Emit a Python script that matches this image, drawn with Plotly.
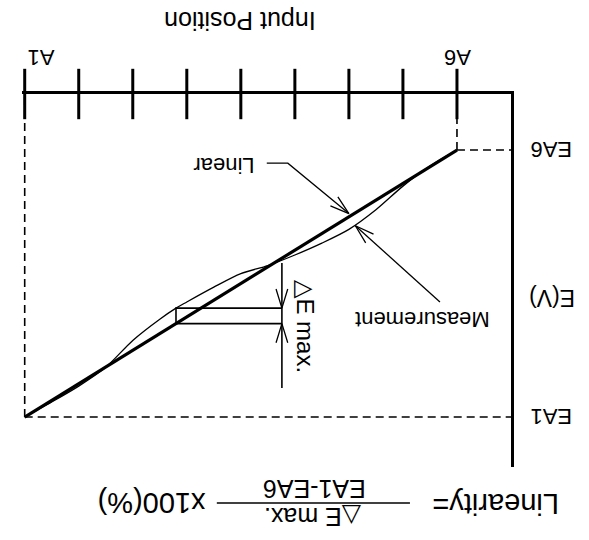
import numpy as np
import plotly.graph_objects as go

# ---- data -------------------------------------------------------------
# Stroke positions (tick marks) from A1 to A6 and their labels
tick_pos = [0, 1, 2, 3, 4, 5, 6, 7, 8]
tick_text = ["A1", "", "", "", "", "", "", "", "A6"]

# Normalised output levels at both ends of the stroke
level_names = ["EA1", "EA6"]
level_values = [0.0, 1.0]

# Measured output voltage along the stroke
meas_pos = [0, 0.5, 1, 1.5, 2, 2.5, 2.8, 3, 3.5, 4, 4.5, 5, 5.5, 6, 6.5, 7, 7.5, 8]
meas_e = [0.0, 0.0565, 0.116, 0.1865, 0.287, 0.3665, 0.408, 0.431, 0.4865,
          0.537, 0.5675, 0.607, 0.6515, 0.703, 0.7765, 0.865, 0.9405, 1.0]

# ---- page geometry ----------------------------------------------------
W, H = 589, 540
L, R, T, B = 22.3, 78, 94, 73
x_range = [-0.05, 9.0]
y_range = [-0.187, 1.21]
pw, ph = W - L - R, H - T - B
kx = pw / (x_range[1] - x_range[0])   # px per stroke unit
ky = ph / (y_range[1] - y_range[0])   # px per E unit


def paper(px, py):
    """Page pixel position -> paper fraction."""
    return (px - L) / pw, (H - B - py) / ph


ea1, ea6 = level_values
p0, p1 = tick_pos[0], tick_pos[-1]


def linear(p):
    return ea1 + (ea6 - ea1) * (p - p0) / (p1 - p0)


def vhead(tip, tail, length=20, half_deg=17):
    """Open V arrowhead at tip, barbs pointing back towards tail."""
    dx = (tail[0] - tip[0]) * kx
    dy = (tail[1] - tip[1]) * ky
    n = np.hypot(dx, dy)
    ux, uy = dx / n, dy / n
    xs, ys = [], []
    for s in (1, -1):
        a = np.radians(half_deg) * s
        bx = ux * np.cos(a) - uy * np.sin(a)
        by = ux * np.sin(a) + uy * np.cos(a)
        xs.append(tip[0] + length * bx / kx)
        ys.append(tip[1] + length * by / ky)
    return [xs[0], tip[0], xs[1], None], [ys[0], tip[1], ys[1], None]


FONT = "Liberation Sans, Arial, Helvetica, sans-serif"
BLACK = "#000000"

fig = go.Figure()

# reference dashed lines from the end points to the axes
dash_x = [p0, p0, None, p0, x_range[1], None, p1, p1, None, p1, x_range[1]]
dash_y = [ea1, y_range[1], None, ea1, ea1, None, ea6, y_range[1], None, ea6, ea6]
fig.add_trace(go.Scatter(x=dash_x, y=dash_y, mode="lines",
                         line=dict(color=BLACK, width=1.6, dash="8px,5px")))

# measured curve
fig.add_trace(go.Scatter(x=meas_pos, y=meas_e, mode="lines",
                         line=dict(color=BLACK, width=1.3, shape="spline", smoothing=0.8)))

# ideal linear output
fig.add_trace(go.Scatter(x=[p0, p1], y=[ea1, ea6], mode="lines",
                         line=dict(color=BLACK, width=3.2)))

# maximum deviation box and dimension line
dev = np.array(meas_e) - np.array([linear(p) for p in meas_pos])
i_max = int(np.argmax(np.abs(dev)))
p_max = meas_pos[i_max]
e_top = meas_e[i_max]
e_bot = linear(p_max)
p_bar = 4.76
box_x = [p_bar, p_max, p_max, p_bar]
box_y = [e_top, e_top, e_bot, e_bot]
fig.add_trace(go.Scatter(x=box_x, y=box_y, mode="lines",
                         line=dict(color=BLACK, width=1.6)))
fig.add_trace(go.Scatter(x=[p_bar, p_bar], y=[0.577, 0.109], mode="lines",
                         line=dict(color=BLACK, width=1.6)))
hx1, hy1 = vhead((p_bar, e_top), (p_bar, e_top + 1))
hx2, hy2 = vhead((p_bar, e_bot), (p_bar, e_bot - 1))
fig.add_trace(go.Scatter(x=hx1 + hx2, y=hy1 + hy2, mode="lines",
                         line=dict(color=BLACK, width=1.3)))

# leader for "Linear"
lin_tip = (6.0, linear(6.0) + 0.012)
lin_path_x = [4.48, 4.87, lin_tip[0]]
lin_path_y = [0.951, 0.951, lin_tip[1]]
hx, hy = vhead(lin_tip, (lin_path_x[1], lin_path_y[1]))
fig.add_trace(go.Scatter(x=lin_path_x + [None] + hx, y=lin_path_y + [None] + hy,
                         mode="lines", line=dict(color=BLACK, width=1.3)))

# leader for "Measurement"
m_tip_p = 6.12
m_tip = (m_tip_p, float(np.interp(m_tip_p, meas_pos, meas_e)) - 0.004)
m_tail = (7.685, 0.431)
hx, hy = vhead(m_tip, m_tail)
fig.add_trace(go.Scatter(x=[m_tail[0], m_tip[0], None] + hx,
                         y=[m_tail[1], m_tip[1], None] + hy,
                         mode="lines", line=dict(color=BLACK, width=1.3)))

# tick marks crossing the position axis
fig.add_trace(go.Scatter(x=tick_pos, y=[y_range[1]] * len(tick_pos), mode="markers",
                         marker=dict(symbol="line-ns", size=36,
                                     line=dict(color=BLACK, width=3)),
                         cliponaxis=False))

ann = []


def text(s, x, y, size, xref="paper", yref="paper", angle=180, xshift=0):
    ann.append(dict(text=s, x=x, y=y, xref=xref, yref=yref, showarrow=False,
                    textangle=angle, xanchor="center", yanchor="middle", xshift=xshift,
                    font=dict(family=FONT, size=size, color=BLACK)))


# axis titles and labels
text("Input Position", *paper(240, 21), 25)
label_shift = [16, 0, 0, 0, 0, 0, 0, 0, 0]
for p, lab, sh in zip(tick_pos, tick_text, label_shift):
    if lab:
        text(lab, p, paper(0, 57)[1], 22, xref="x", xshift=sh)
text("E(V)", *paper(552, 298), 23)
for name, v in zip(level_names, level_values):
    text(name, paper(551, 0)[0], v, 22, yref="y")

# curve call-outs
text("Linear", 3.685, 0.94, 22, xref="x", yref="y")
text("Measurement", 7.35, 0.363, 22, xref="x", yref="y")
text("\u25b3E max.", 5.2, 0.337, 24, xref="x", yref="y", angle=90)

# linearity formula
text("Linearity=", *paper(495, 504), 29)
text("\u25b3E max.", *paper(312, 517), 25)
text("EA1-EA6", *paper(314, 489), 25)
text("x100(%)", *paper(152, 503), 29)
fx0, fy = paper(217, 503)
fx1, _ = paper(410, 503)

fig.update_layout(
    width=W, height=H,
    margin=dict(l=L, r=R, t=T, b=B, pad=0),
    paper_bgcolor="white", plot_bgcolor="white",
    showlegend=False, hovermode=False,
    annotations=ann,
    shapes=[dict(type="line", xref="paper", yref="paper", x0=fx0, x1=fx1, y0=fy, y1=fy,
                 line=dict(color=BLACK, width=1.5))],
    xaxis=dict(range=x_range, side="top", showline=True, linecolor=BLACK, linewidth=3,
               showgrid=False, zeroline=False, showticklabels=False, ticks=""),
    yaxis=dict(range=y_range, side="right", showline=True, linecolor=BLACK, linewidth=3,
               showgrid=False, zeroline=False, showticklabels=False, ticks=""),
)

fig.write_html("out.html")
